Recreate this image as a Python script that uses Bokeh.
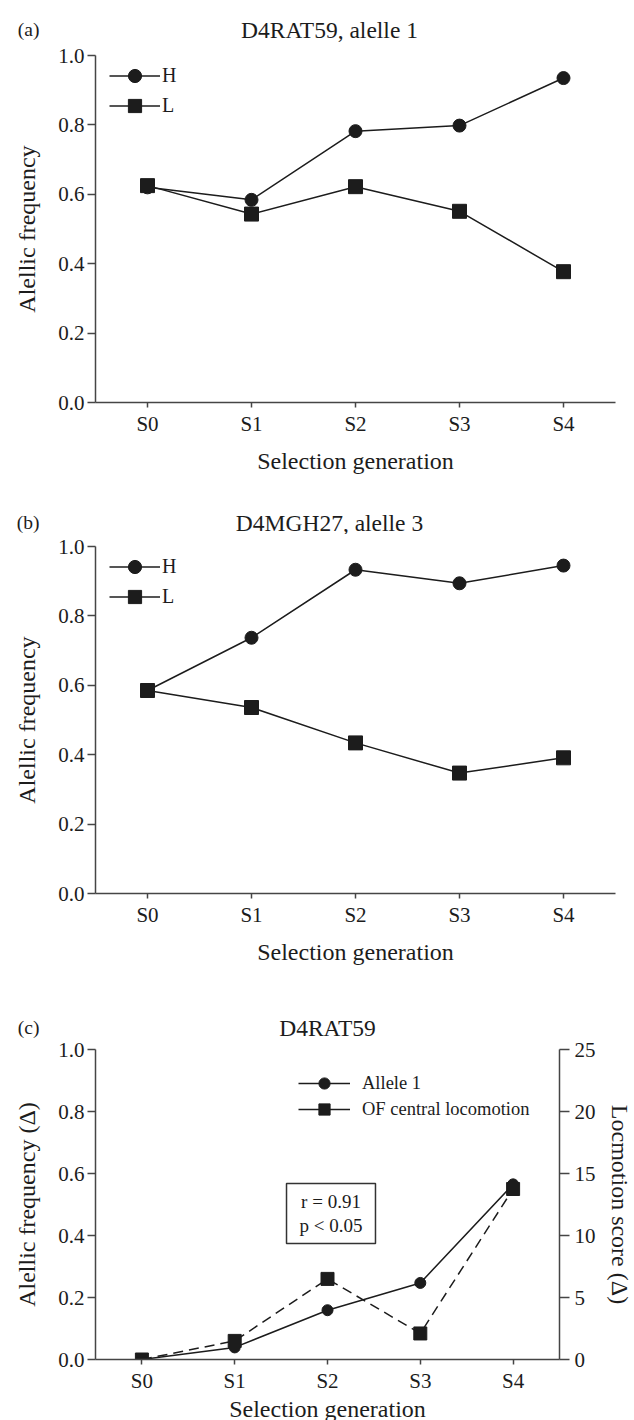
from bokeh.plotting import figure
from bokeh.models import (Range1d, LinearAxis, FixedTicker, Legend, LegendItem,
                          Label, PrintfTickFormatter)
from bokeh.layouts import column
from bokeh.embed import file_html
from bokeh.resources import INLINE

# ---------------- data ----------------
generations = ["S0", "S1", "S2", "S3", "S4"]
x_label = "Selection generation"

a_tag = "(a)"
a_title = "D4RAT59, alelle 1"
a_high = [0.620, 0.584, 0.782, 0.798, 0.935]
a_low = [0.625, 0.543, 0.622, 0.551, 0.377]

b_tag = "(b)"
b_title = "D4MGH27, alelle 3"
b_high = [0.585, 0.737, 0.933, 0.894, 0.945]
b_low = [0.585, 0.536, 0.434, 0.347, 0.391]

c_tag = "(c)"
c_title = "D4RAT59"
c_allele = [0.000, 0.039, 0.159, 0.247, 0.565]
c_locomotion = [0.0, 1.5, 6.5, 2.1, 13.75]
c_stats = "r = 0.91\np < 0.05"

series_names = ["H", "L"]
c_series_names = ["Allele 1", "OF central locomotion"]

freq_ticks = [0.0, 0.2, 0.4, 0.6, 0.8, 1.0]
loc_ticks = [0, 5, 10, 15, 20, 25]

# ---------------- style ----------------
FONT = "Liberation Serif"
INK = "#1c1c1c"
AXIS = "#454545"
LEFT = 95
TICK_FS = "21px"
LABEL_FS = "24px"
TITLE_FS = "23.5px"
xs = list(range(len(generations)))


def clean(p):
    p.outline_line_color = None
    p.grid.visible = False
    p.background_fill_color = "white"
    p.border_fill_color = "white"


def header(tag, title, top, frame_h, title_x):
    """Row holding the panel tag (as a tick label of a bare axis) and title."""
    h = figure(frame_width=520, frame_height=frame_h,
               min_border_left=LEFT, min_border_right=19,
               min_border_top=top, min_border_bottom=0,
               x_range=Range1d(0, 1), y_range=Range1d(0, 1),
               x_axis_type=None, output_backend="svg",
               toolbar_location=None, tools="")
    clean(h)
    ya = h.yaxis[0]
    ya.ticker = FixedTicker(ticks=[0.5])
    ya.major_label_overrides = {0.5: tag}
    ya.axis_line_color = None
    ya.major_tick_line_color = None
    ya.minor_tick_line_color = None
    ya.major_tick_out = 0
    ya.major_tick_in = 0
    ya.major_label_standoff = 56
    ya.major_label_text_font = FONT
    ya.major_label_text_font_size = "19.5px"
    ya.major_label_text_color = INK
    h.add_layout(Label(x=title_x - LEFT, y=frame_h / 2, x_units="screen",
                       y_units="screen", text=title, text_font=FONT,
                       text_font_size=TITLE_FS, text_color=INK,
                       text_baseline="middle", text_align="center"))
    return h


def style_axis(ax, tick_out, label_standoff, tick_standoff=4):
    ax.axis_line_color = AXIS
    ax.axis_line_width = 1.5
    ax.major_tick_line_color = AXIS
    ax.major_tick_line_width = 1.5
    ax.major_tick_out = tick_out
    ax.major_tick_in = 0
    ax.minor_tick_line_color = None
    ax.major_label_standoff = tick_standoff
    ax.major_label_text_font = FONT
    ax.major_label_text_font_size = TICK_FS
    ax.major_label_text_color = INK
    ax.axis_label_text_font = FONT
    ax.axis_label_text_font_size = LABEL_FS
    ax.axis_label_text_font_style = "normal"
    ax.axis_label_text_color = INK
    ax.axis_label_standoff = label_standoff


def base_fig(frame_w, frame_h, top, bottom, right, ylabel, xstandoff):
    p = figure(frame_width=frame_w, frame_height=frame_h,
               min_border_left=LEFT, min_border_right=right,
               min_border_top=top, min_border_bottom=bottom,
               x_range=Range1d(-0.5, 4.5), y_range=Range1d(0, 1),
               output_backend="svg", toolbar_location=None, tools="")
    clean(p)

    xa = p.xaxis[0]
    xa.ticker = FixedTicker(ticks=xs)
    xa.major_label_overrides = {i: g for i, g in enumerate(generations)}
    xa.axis_label = x_label
    style_axis(xa, 5, xstandoff)

    ya = p.yaxis[0]
    ya.ticker = FixedTicker(ticks=freq_ticks)
    ya.formatter = PrintfTickFormatter(format="%.1f")
    ya.axis_label = ylabel
    style_axis(ya, 8, 15, 3)
    return p


def add_legend(p, label, renderers, vx, vy, gw, gh, standoff, fs):
    leg = Legend(items=[LegendItem(label=label, renderers=renderers)],
                 location=(vx, vy), padding=0, margin=0, spacing=0,
                 glyph_width=gw, glyph_height=gh, label_standoff=standoff,
                 label_text_font=FONT, label_text_font_size=fs,
                 label_text_color=INK,
                 border_line_color=None, background_fill_alpha=0)
    p.add_layout(leg)


def hl_panel(high, low, top, bottom):
    p = base_fig(520, 347, top, bottom, 19, "Alellic frequency", 9)
    lh = p.line(xs, high, line_color=INK, line_width=1.5)
    ll = p.line(xs, low, line_color=INK, line_width=1.5)
    sh = p.scatter(xs, high, marker="circle", size=13, color=INK)
    sl = p.scatter(xs, low, marker="square", size=14, color=INK)
    add_legend(p, series_names[0], [lh, sh], 14, 310, 51, 33, 2, "20px")
    add_legend(p, series_names[1], [ll, sl], 14, 280, 51, 33, 2, "20px")
    return p


ha = header(a_tag, a_title, 15, 28, 329)
pa = hl_panel(a_high, a_low, 12, 98)
hb = header(b_tag, b_title, 10, 24, 329)
pb = hl_panel(b_high, b_low, 12, 107)
hc = header(c_tag, c_title, 15, 24, 327)

# ---------------- panel c ----------------
pc = base_fig(464, 310, 10, 61, 75, "Alellic frequency (\u0394)", 0)
pc.extra_y_ranges = {"loc": Range1d(0, 25)}
ra = LinearAxis(y_range_name="loc", ticker=FixedTicker(ticks=loc_ticks),
                axis_label="Locmotion score (\u0394)")
style_axis(ra, 10, 8, 5)
pc.add_layout(ra, "right")

la = pc.line(xs, c_allele, line_color=INK, line_width=1.5)
lo = pc.line(xs, c_locomotion, line_color=INK, line_width=1.5,
             line_dash="10 6", y_range_name="loc")
sa = pc.scatter(xs, c_allele, marker="circle", size=11, color=INK)
so = pc.scatter(xs, c_locomotion, marker="square", size=13, color=INK,
                y_range_name="loc")
add_legend(pc, c_series_names[0], [la, sa], 203, 262, 52, 28, 12, "18.5px")
add_legend(pc, c_series_names[1], [la, so], 203, 236, 52, 28, 12, "18.5px")

pc.add_layout(Label(x=235.5, y=146, x_units="screen", y_units="screen",
                    text=c_stats, text_font=FONT, text_font_size="19px",
                    text_color=INK, text_align="center", text_baseline="middle",
                    text_line_height=1.1, border_line_color="#333333",
                    border_line_width=1.5, background_fill_color="white",
                    padding=(13, 8)))

layout = column(ha, pa, hb, pb, hc, pc, spacing=0)
open("out.html", "w").write(file_html(layout, INLINE))
